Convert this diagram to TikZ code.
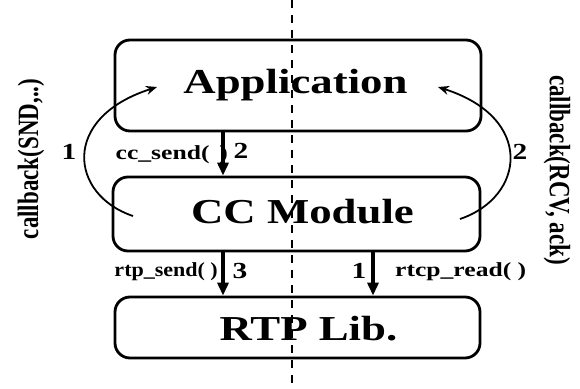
\documentclass[tikz,border=0pt]{standalone}
\usepackage{fontspec}
\setmainfont{Liberation Serif}
\newfontfamily\widefont[FakeStretch=1.28]{Liberation Serif}
\usetikzlibrary{arrows.meta}

\begin{document}
\begin{tikzpicture}[x=1pt,y=-1pt,
  layer/.style={draw, line width=2.8pt, rounded corners=15pt, inner sep=0pt},
  big/.style={font=\widefont\bfseries\fontsize{35}{40}\selectfont, anchor=base, inner sep=0pt},
  call/.style={font=\widefont\bfseries\fontsize{20}{24}\selectfont, inner sep=0pt},
  num/.style={font=\widefont\bfseries\fontsize{23}{26}\selectfont, inner sep=0pt},
  side/.style={font=\bfseries\fontsize{23}{26}\selectfont, inner sep=0pt},
  down/.style={line width=3.2pt, -{Triangle[length=13pt,width=11pt]}},
  loop/.style={line width=1.8pt, -{Stealth[length=11pt,width=9pt]}},
  axis/.style={line width=1.1pt, dash pattern=on 8pt off 7pt},
]
\useasboundingbox (0,0) rectangle (580,388);

% layers
\node[layer, minimum width=366pt, minimum height=91pt] (app) at (298,85.5) {};
\node[layer, minimum width=367pt, minimum height=74pt] (cc) at (296.5,214) {};
\node[layer, minimum width=365pt, minimum height=61pt] (rtp) at (297.5,327.5) {};

\node[big] (appT) at (295.5,93) {Application};
\node[big] (ccT) at (302.5,223) {CC Module};
\node[big] (rtpT) at (308.5,340) {RTP Lib.};

% call labels
\node[call, anchor=east] (ccsend) at (228,155) {cc\_send( \,)};
\node[num] (n2a) at (241,151) {2};
\node[call, anchor=east, xscale=0.86] (rtpsend) at (218,272) {rtp\_send( )};
\node[num] (n3) at (240,271) {3};
\node[num] (n1b) at (359,271) {1};
\node[call, anchor=west] (rtcpread) at (395,272) {rtcp\_read( )};

% downward calls
\coordinate (xl) at (223,0);
\coordinate (xr) at (373,0);
\draw[down] (xl |- app.south) -- (xl |- cc.north);
\draw[down] (xl |- cc.south) -- (xl |- rtp.north);
\draw[down] (xr |- cc.south) -- (xr |- rtp.north);

% callbacks
\coordinate (l0) at (133,216);
\coordinate (l1) at (157,87);
\coordinate (r0) at (460,219);
\coordinate (r1) at (438,87);
\draw[loop] (l0) .. controls (70,195) and (60,118) .. (l1);
\draw[loop] (r0) .. controls (525,197) and (535,118) .. (r1);
\node[num] (n1a) at (69,152) {1};
\node[num] (n2b) at (520,152) {2};

\node[side, xscale=1.28, rotate=90] (cbs) at (31,159) {callback(SND,..)};
\node[side, xscale=1.28, rotate=-90] (cbr) at (557,170) {callback(RCV, ack)};

% separation line
\coordinate (dt) at (292,0);
\coordinate (db) at (292,388);
\draw[axis] (dt) -- (db);
\end{tikzpicture}
\end{document}
